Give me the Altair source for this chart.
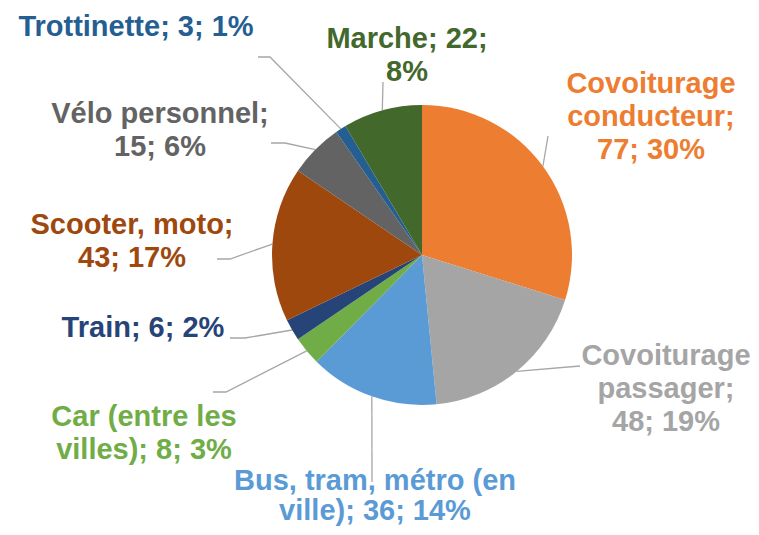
import math
import altair as alt
import pandas as pd

# ---- data ----
categories = ["Covoiturage conducteur", "Covoiturage passager", "Bus, tram, métro (en ville)",
              "Car (entre les villes)", "Train", "Scooter, moto", "Vélo personnel",
              "Trottinette", "Marche"]
values = [77, 48, 36, 8, 6, 43, 15, 3, 22]
percents = [30, 19, 14, 3, 2, 17, 6, 1, 8]
colors = ["#ED7D31", "#A5A5A5", "#5B9BD5", "#70AD47", "#264478", "#9E480E",
          "#636363", "#255E91", "#43682B"]
labels = ["Covoiturage\nconducteur;\n77; 30%", "Covoiturage\npassager;\n48; 19%",
          "Bus, tram, métro (en\nville); 36; 14%", "Car (entre les\nvilles); 8; 3%",
          "Train; 6; 2%", "Scooter, moto;\n43; 17%", "Vélo personnel;\n15; 6%",
          "Trottinette; 3; 1%", "Marche; 22;\n8%"]

# ---- layout (pixels, plot coordinates) ----
CX, CY, R = 414, 247, 150
label_x = [643, 658, 367, 136, 135, 124, 152, 128, 399]
label_y = [85, 357, 482, 418, 329, 226, 115, 28, 40]
line_h = [33, 33, 30, 33, 33, 33, 33, 33, 33]
# leader-line end points (elbow, end) per category
leader_pts = [
    [(540, 128)],
    [(572, 358)],
    [(364, 474)],
    [(218, 384), (205, 384)],
    [(237, 330), (222, 330)],
    [(222, 251), (209, 251)],
    [(277, 135), (263, 135)],
    [(262, 49), (250, 49)],
    [(375, 74)],
]

pie_df = pd.DataFrame({"cat": categories, "value": values, "order": list(range(len(values)))})

total = sum(values)
rows = []
cum = 0
for i, v in enumerate(values):
    mid = (cum + v / 2) / total * 2 * math.pi
    cum += v
    sx = CX + R * math.sin(mid)
    sy = CY - R * math.cos(mid)
    pts = [(sx, sy)] + leader_pts[i]
    for j, (px, py) in enumerate(pts):
        rows.append({"g": i, "k": j, "px": px, "py": py})
lead_df = pd.DataFrame(rows)

lab_df = pd.DataFrame({"label": labels, "tx": label_x, "ty": label_y, "col": colors, "lh": line_h})

pie = alt.Chart(pie_df).mark_arc(outerRadius=R).encode(
    theta=alt.Theta("value:Q", stack=True),
    color=alt.Color("cat:N", scale=alt.Scale(domain=categories, range=colors), legend=None),
    order=alt.Order("order:Q"),
    x=alt.value(CX),
    y=alt.value(CY),
)

lines = alt.Chart(lead_df).mark_line(color="#A6A6A6", strokeWidth=1.3).encode(
    x=alt.X("px:Q", scale=None),
    y=alt.Y("py:Q", scale=None),
    detail="g:N",
    order="k:Q",
)

text_layers = []
for lh in sorted(set(line_h)):
    text_layers.append(
        alt.Chart(lab_df).transform_filter(alt.datum.lh == lh).mark_text(
            font="Liberation Sans", fontWeight="bold", fontSize=29, lineBreak="\n",
            lineHeight=lh, align="center", baseline="alphabetic",
        ).encode(
            x=alt.X("tx:Q", scale=None),
            y=alt.Y("ty:Q", scale=None),
            text="label:N",
            color=alt.Color("col:N", scale=None),
        )
    )

chart = alt.layer(pie, lines, *text_layers).properties(
    width=743, height=519, autosize="none", padding=0,
).configure_view(stroke=None)

chart.save("out.html", embed_options={"renderer": "svg", "actions": False})
